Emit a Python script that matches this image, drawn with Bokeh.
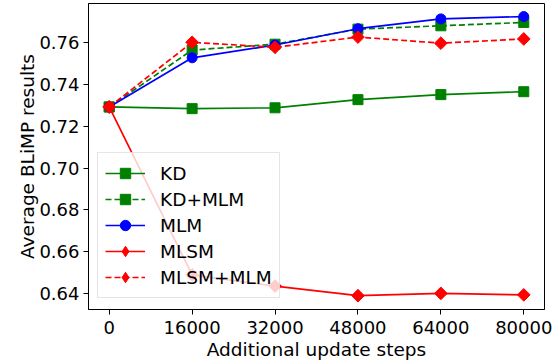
import math
from bokeh.plotting import figure
from bokeh.models import Range1d, FixedTicker, Legend, LegendItem
from bokeh.embed import file_html
from bokeh.resources import INLINE

steps = [0, 16000, 32000, 48000, 64000, 80000]
kd = [0.7292, 0.7284, 0.7288, 0.7327, 0.7351, 0.7365]
kd_mlm = [0.7292, 0.7564, 0.7592, 0.7664, 0.7680, 0.7696]
mlm = [0.7292, 0.7527, 0.7588, 0.7666, 0.7713, 0.7724]
mlsm = [0.7292, 0.6489, 0.6436, 0.6390, 0.6401, 0.6394]
mlsm_mlm = [0.7292, 0.7601, 0.7577, 0.7626, 0.7597, 0.7617]
x_ticks = [0, 16000, 32000, 48000, 64000, 80000]
y_ticks = [0.64, 0.66, 0.68, 0.70, 0.72, 0.74, 0.76]

FONT = "DejaVu Sans"
FS = "18px"
FS_LABEL = "18.5px"

p = figure(width=560, height=363, output_backend="svg", toolbar_location=None,
           x_range=Range1d(-4000, 84000), y_range=Range1d(0.6324, 0.77865),
           min_border_left=88, min_border_right=16, min_border_top=3, min_border_bottom=54)
p.grid.visible = False
p.outline_line_color = "black"
p.outline_line_alpha = 1
p.outline_line_width = 1

for ax in (p.xaxis[0], p.yaxis[0]):
    ax.major_label_text_font = FONT
    ax.major_label_text_font_size = FS
    ax.major_label_text_color = "black"
    ax.axis_label_text_font = FONT
    ax.axis_label_text_font_size = FS_LABEL
    ax.axis_label_text_font_style = "normal"
    ax.axis_label_text_color = "black"
    ax.axis_line_color = "black"
    ax.major_tick_line_color = "black"
    ax.major_tick_out = 5
    ax.major_tick_in = 0
    ax.minor_tick_line_color = None

p.xaxis.ticker = FixedTicker(ticks=x_ticks)
p.yaxis.ticker = FixedTicker(ticks=y_ticks)
p.xaxis.major_label_overrides = {t: str(t) for t in x_ticks}
p.yaxis.major_label_overrides = {t: f"{t:.2f}" for t in y_ticks}
p.xaxis.axis_label = "Additional update steps"
p.yaxis.axis_label = "Average BLiMP results"
p.xaxis.axis_label_standoff = 2
p.yaxis.axis_label_standoff = -2
p.xaxis.major_label_standoff = 6
p.yaxis.major_label_standoff = 4

series = [
    ("KD", kd, "#008000", "solid", "square", 10, 0.0),
    ("KD+MLM", kd_mlm, "#008000", "6 3", "square", 10, 0.0),
    ("MLM", mlm, "#0000ff", "solid", "circle", 10, 0.0),
    ("MLSM", mlsm, "#ff0000", "solid", "square", 9, math.pi / 4),
    ("MLSM+MLM", mlsm_mlm, "#ff0000", "6 3", "square", 9, math.pi / 4),
]

items = []
for name, ys, col, dash, marker, sz, ang in series:
    l = p.line(steps, ys, line_color=col, line_width=1.7, line_dash=dash)
    s = p.scatter(steps, ys, marker=marker, size=sz, angle=ang,
                  fill_color=col, line_color=col)
    if ang:
        # legend sample: Bokeh does not rotate legend markers, so use a hidden diamond
        s = p.scatter(steps, ys, marker="diamond", size=sz, fill_color=col,
                      line_color=col, visible=False)
    items.append(LegendItem(label=name, renderers=[l, s]))

legend = Legend(items=items, location=(9, 11))
legend.label_text_font = FONT
legend.label_text_font_size = FS_LABEL
legend.label_text_color = "black"
legend.glyph_width = 40
legend.glyph_height = 26
legend.label_height = 26
legend.label_standoff = 15
legend.spacing = 0
legend.padding = 7
legend.margin = 0
legend.border_line_color = "#cccccc"
legend.border_line_width = 1
legend.background_fill_color = "white"
legend.background_fill_alpha = 0.8
p.add_layout(legend, "center")

open("out.html", "w").write(file_html(p, INLINE))
